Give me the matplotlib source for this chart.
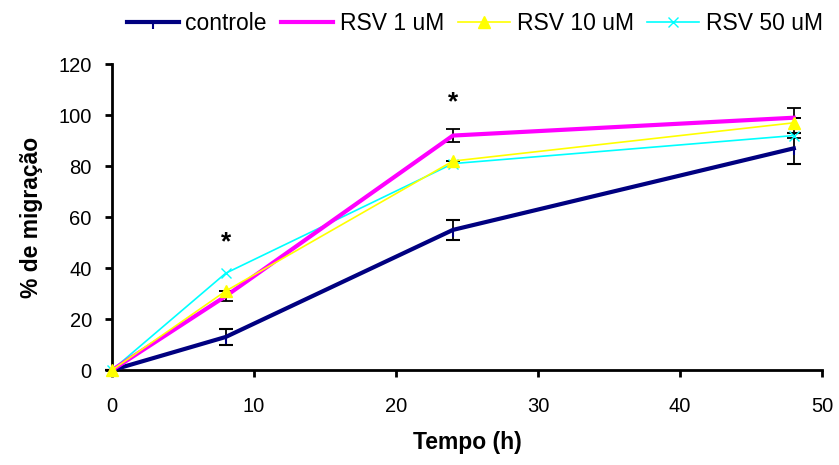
import matplotlib.pyplot as plt
from matplotlib.lines import Line2D
from matplotlib.markers import TICKDOWN

plt.rcParams['font.family'] = ['Liberation Sans', 'DejaVu Sans']

# Time points (h)
tempo = [0, 8, 24, 48]

# % migration per group
controle = [0, 13, 55, 87]
controle_err = [0, 3, 4, 6]
rsv1 = [0, 29, 92, 99]
rsv1_err = [0, 2, 2.5, 0]
rsv10 = [0, 31, 82, 97]
rsv10_err = [0, 0, 0, 6]
rsv50 = [0, 38, 81, 92]

labels = ["controle", "RSV 1 uM", "RSV 10 uM", "RSV 50 uM"]

# significance marks
star_x = [8, 24]
star_y = [50, 105]

fig = plt.figure(figsize=(8.39, 4.65), dpi=100)
ax = fig.add_axes([0.1335, 0.204, 0.8465, 0.658])

eb = dict(ecolor="black", elinewidth=1.3, capsize=5, capthick=1.3, zorder=3)
ax.errorbar(tempo, controle, yerr=controle_err, color="#000080", lw=3,
            marker=TICKDOWN, ms=5, mew=1.5, **eb)
ax.errorbar(tempo, rsv1, yerr=rsv1_err, color="#ff00ff", lw=3, **eb)
ax.errorbar(tempo, rsv10, yerr=rsv10_err, color="#ffff00", lw=1.2,
            marker="^", ms=9, **eb)
ax.plot(tempo, rsv50, color="#00ffff", lw=1.2, marker="x", ms=7, zorder=3)

for sx, sy in zip(star_x, star_y):
    ax.text(sx, sy, "*", ha="center", va="center", fontsize=19,
            fontweight="bold")

ax.set_xlim(0, 50)
ax.set_ylim(0, 120)
ax.set_xticks(range(0, 51, 10))
ax.set_yticks(range(0, 121, 20))
ax.spines["top"].set_visible(False)
ax.spines["right"].set_visible(False)
ax.spines["left"].set_linewidth(2)
ax.spines["bottom"].set_linewidth(2)
ax.tick_params(direction="out", length=5, width=2, labelsize=14.5)
ax.tick_params(axis="x", pad=14)
ax.tick_params(axis="y", pad=9.5)

ax.set_xlabel("Tempo (h)", fontsize=16.5, fontweight="bold", labelpad=11)
ax.set_ylabel("% de migração", fontsize=16.5, fontweight="bold", labelpad=11)

handles = [
    Line2D([], [], color="#000080", lw=3, marker=TICKDOWN, ms=5, mew=1.5),
    Line2D([], [], color="#ff00ff", lw=3),
    Line2D([], [], color="#ffff00", lw=1.2, marker="^", ms=9),
    Line2D([], [], color="#00ffff", lw=1.2, marker="x", ms=7),
]
fig.legend(handles, labels, loc="center", bbox_to_anchor=(0.566, 0.95),
           ncol=4, frameon=False, fontsize=16.5,
           handlelength=2.27, columnspacing=0.6, handletextpad=0.3,
           borderaxespad=0, borderpad=0)

for l in ax.lines:
    l.set_clip_on(False)

fig.savefig("out.png", dpi=100)
